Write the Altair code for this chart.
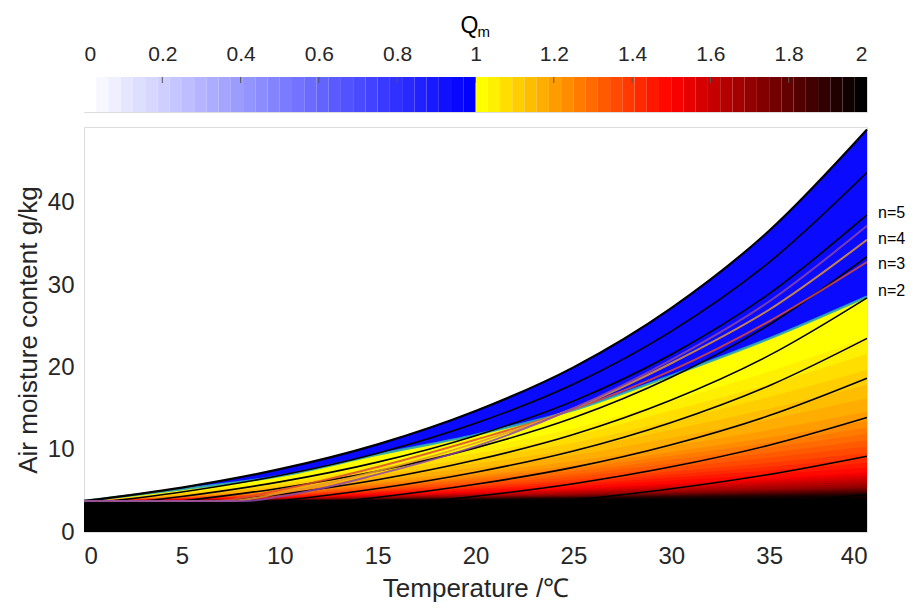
import altair as alt
import numpy as np
import pandas as pd

# ---------------- values ----------------
T = [0, 5, 10, 15, 20, 25, 30, 35, 40]                                   # °C
SATURATION = [3.77, 5.40, 7.63, 10.65, 14.70, 20.00, 27.20, 36.60, 48.90]  # g/kg (100 % line)
FLOOR_D = 3.77                                                           # g/kg lower limit of field
BOUNDARY = [3.77, 5.20, 6.80, 9.40, 11.80, 14.80, 19.00, 23.50, 28.60]   # Qm = 1 contour
RH_LEVELS = [0.1, 0.2, 0.3, 0.4, 0.5, 0.6, 0.7, 0.8, 0.9, 1.0]

# Qm profile across the yellow/red zone (r = relative height between floor and Qm=1 contour)
QM_R = [0.00, 0.03, 0.07, 0.14, 0.23, 0.41, 0.60, 0.80, 1.00]
QM_V = [2.00, 1.93, 1.70, 1.50, 1.38, 1.20, 1.11, 1.03, 1.00]
QM_LEVELS = 32
BLUE_QM = 0.96

N5_T = [0, 8.2, 10, 15, 20, 25, 30, 35, 40]
N5_D = [3.77, 3.77, 4.3, 7.0, 10.4, 15.0, 20.9, 28.0, 37.2]
N4_T = [0, 7.4, 10, 15, 20, 25, 30, 35, 40]
N4_D = [3.77, 3.77, 4.7, 7.4, 10.8, 15.0, 20.5, 27.0, 35.5]
N3_T = [0, 6.6, 10, 15, 20, 25, 30, 35, 40]
N3_D = [3.77, 3.77, 5.1, 7.9, 11.2, 14.9, 19.6, 25.6, 32.8]
N_LINE_COLORS = ["#8c46a6", "#e6982e", "#dc4a30"]   # n=5, n=4, n=3
N_NAMES = ["n=5", "n=4", "n=3", "n=2"]
N_LABEL_D = [38.8, 35.6, 32.5, 29.3]

CB_TICKS = [0, 0.2, 0.4, 0.6, 0.8, 1, 1.2, 1.4, 1.6, 1.8, 2]
CMAP_DOMAIN = [0, 0.999, 1.001, 1.5, 2]
CMAP_RANGE = ["#ffffff", "#0000ff", "#ffff00", "#ff0000", "#000000"]

FONT = "Liberation Sans"
TXT = "#262626"

# ---------------- scales / axes ----------------
cscale = alt.Scale(domain=CMAP_DOMAIN, range=CMAP_RANGE, interpolate="rgb")

xs = alt.Scale(domain=[0, 40], nice=False, zero=False)
ys = alt.Scale(domain=[0, 49.2], nice=False, zero=False)
x_axis = alt.Axis(values=[0, 5, 10, 15, 20, 25, 30, 35, 40], title="Temperature /℃",
                  labelFontSize=24, titleFontSize=26, tickSize=0, labelPadding=12,
                  titlePadding=7, domain=False, grid=False, labelColor=TXT, titleColor=TXT,
                  titleFontWeight="normal", labelFont=FONT, titleFont=FONT)
y_axis = alt.Axis(values=[0, 10, 20, 30, 40], title="Air moisture content g/kg",
                  labelFontSize=24, titleFontSize=26, tickSize=0, labelPadding=10,
                  titlePadding=6, domain=False, grid=False, labelColor=TXT, titleColor=TXT,
                  titleFontWeight="normal", labelFont=FONT, titleFont=FONT)


def X(field="T"):
    return alt.X(f"{field}:Q", scale=xs, axis=x_axis)


def Y(field):
    return alt.Y(f"{field}:Q", scale=ys, axis=y_axis)


def C():
    return alt.Color("c:Q", scale=cscale, legend=None)


# ---------------- field ----------------
floor_df = pd.DataFrame({"T": T, "top": [FLOOR_D] * len(T), "bot": [0.0] * len(T), "c": 2.0})
blue_df = pd.DataFrame({"T": T, "top": SATURATION, "bot": [FLOOR_D] * len(T), "c": BLUE_QM})

black_floor = alt.Chart(floor_df).mark_area().encode(x=X(), y=Y("top"), y2="bot:Q", color=C())
blue_area = alt.Chart(blue_df).mark_area(interpolate="monotone").encode(
    x=X(), y=Y("top"), y2="bot:Q", color=C())

band_layers = []
xp = QM_V[::-1]   # ascending Qm
fp = QM_R[::-1]
for j in range(QM_LEVELS):
    q = 1.0 + j / QM_LEVELS
    r = float(np.interp(q, xp, fp))
    tops = [FLOOR_D + r * (b - FLOOR_D) for b in BOUNDARY]
    cval = 1.001 + 0.999 * j / (QM_LEVELS - 1)
    df = pd.DataFrame({"T": T, "top": tops, "bot": [FLOOR_D] * len(T), "c": cval})
    band_layers.append(
        alt.Chart(df).mark_area(interpolate="monotone").encode(
            x=X(), y=Y("top"), y2="bot:Q", color=C()))

bound_df = pd.DataFrame({"T": T, "d": BOUNDARY})
boundary_line = alt.Chart(bound_df).mark_line(
    interpolate="monotone", color="#2aa6b8", strokeWidth=2.5, opacity=0.9
).encode(x=X(), y=Y("d"))

rh_rows = []
for phi in RH_LEVELS:
    for t, s in zip(T, SATURATION):
        rh_rows.append({"T": t, "d": 622 * phi * s / (622 + (1 - phi) * s), "phi": phi})
rh_df = pd.DataFrame(rh_rows)
rh_lines = alt.Chart(rh_df[rh_df.phi < 1]).mark_line(
    interpolate="monotone", color="black", strokeWidth=1.6
).encode(x=X(), y=Y("d"), detail="phi:N")
sat_line = alt.Chart(rh_df[rh_df.phi == 1]).mark_line(
    interpolate="monotone", color="black", strokeWidth=2.2
).encode(x=X(), y=Y("d"))

n_layers = []
for tt, dd, col in zip([N3_T, N4_T, N5_T], [N3_D, N4_D, N5_D], N_LINE_COLORS[::-1]):
    df = pd.DataFrame({"T": tt, "d": dd})
    n_layers.append(alt.Chart(df).mark_line(
        interpolate="monotone", color=col, strokeWidth=2, opacity=0.85
    ).encode(x=X(), y=Y("d")))

lab_df = pd.DataFrame({"T": [40] * len(N_NAMES), "d": N_LABEL_D, "name": N_NAMES})
labels = alt.Chart(lab_df).mark_text(
    align="left", baseline="middle", dx=11, fontSize=16, font=FONT, color="#000000", clip=False
).encode(x=X(), y=Y("d"), text="name:N")

main = alt.layer(black_floor, blue_area, *band_layers, boundary_line, rh_lines, sat_line,
                 *n_layers, labels).properties(width=783, height=405)

# ---------------- colour bar ----------------
cb_rows = []
for k in range(32):
    cb_rows.append({"x0": k / 32, "x1": (k + 1) / 32, "c": 0.999 * k / 31})
    cb_rows.append({"x0": 1 + k / 32, "x1": 1 + (k + 1) / 32, "c": 1.001 + 0.999 * k / 31})
cb_df = pd.DataFrame(cb_rows)
cbx = alt.Scale(domain=[0, 2], nice=False, zero=False)
cb_axis = alt.Axis(orient="top", values=CB_TICKS, format="~g", labelFontSize=21, tickSize=0,
                   labelPadding=13, domain=False, grid=False, title=None, labelColor=TXT,
                   labelFont=FONT)
cb_rect = alt.Chart(cb_df).mark_rect().encode(
    x=alt.X("x0:Q", scale=cbx, axis=cb_axis), x2="x1:Q", color=C())
tick_df = pd.DataFrame({"v": CB_TICKS[1:-1]})
cb_ticks = alt.Chart(tick_df).mark_rule(color="#555555", strokeWidth=1).encode(
    x=alt.X("v:Q", scale=cbx, axis=cb_axis), y=alt.value(0), y2=alt.value(6))
q_text = alt.Chart(pd.DataFrame({"v": [1.0], "t": ["Q"]})).mark_text(
    fontSize=23, font=FONT, color="#000000", align="center", baseline="alphabetic", dx=-6
).encode(x=alt.X("v:Q", scale=cbx, axis=cb_axis), y=alt.value(-44), text="t:N")
m_text = alt.Chart(pd.DataFrame({"v": [1.0], "t": ["m"]})).mark_text(
    fontSize=15, font=FONT, color="#000000", align="left", baseline="alphabetic", dx=2
).encode(x=alt.X("v:Q", scale=cbx, axis=cb_axis), y=alt.value(-40), text="t:N")
colorbar = alt.layer(cb_rect, cb_ticks, q_text, m_text).properties(width=783, height=35)

chart = alt.vconcat(colorbar, main, spacing=11).properties(
    padding={"left": 6, "top": 6, "right": 0, "bottom": 0}
).configure_view(stroke="#c4c4c4", strokeWidth=1).configure(font=FONT)

chart.save("out.html", embed_options={"renderer": "svg", "actions": False})
